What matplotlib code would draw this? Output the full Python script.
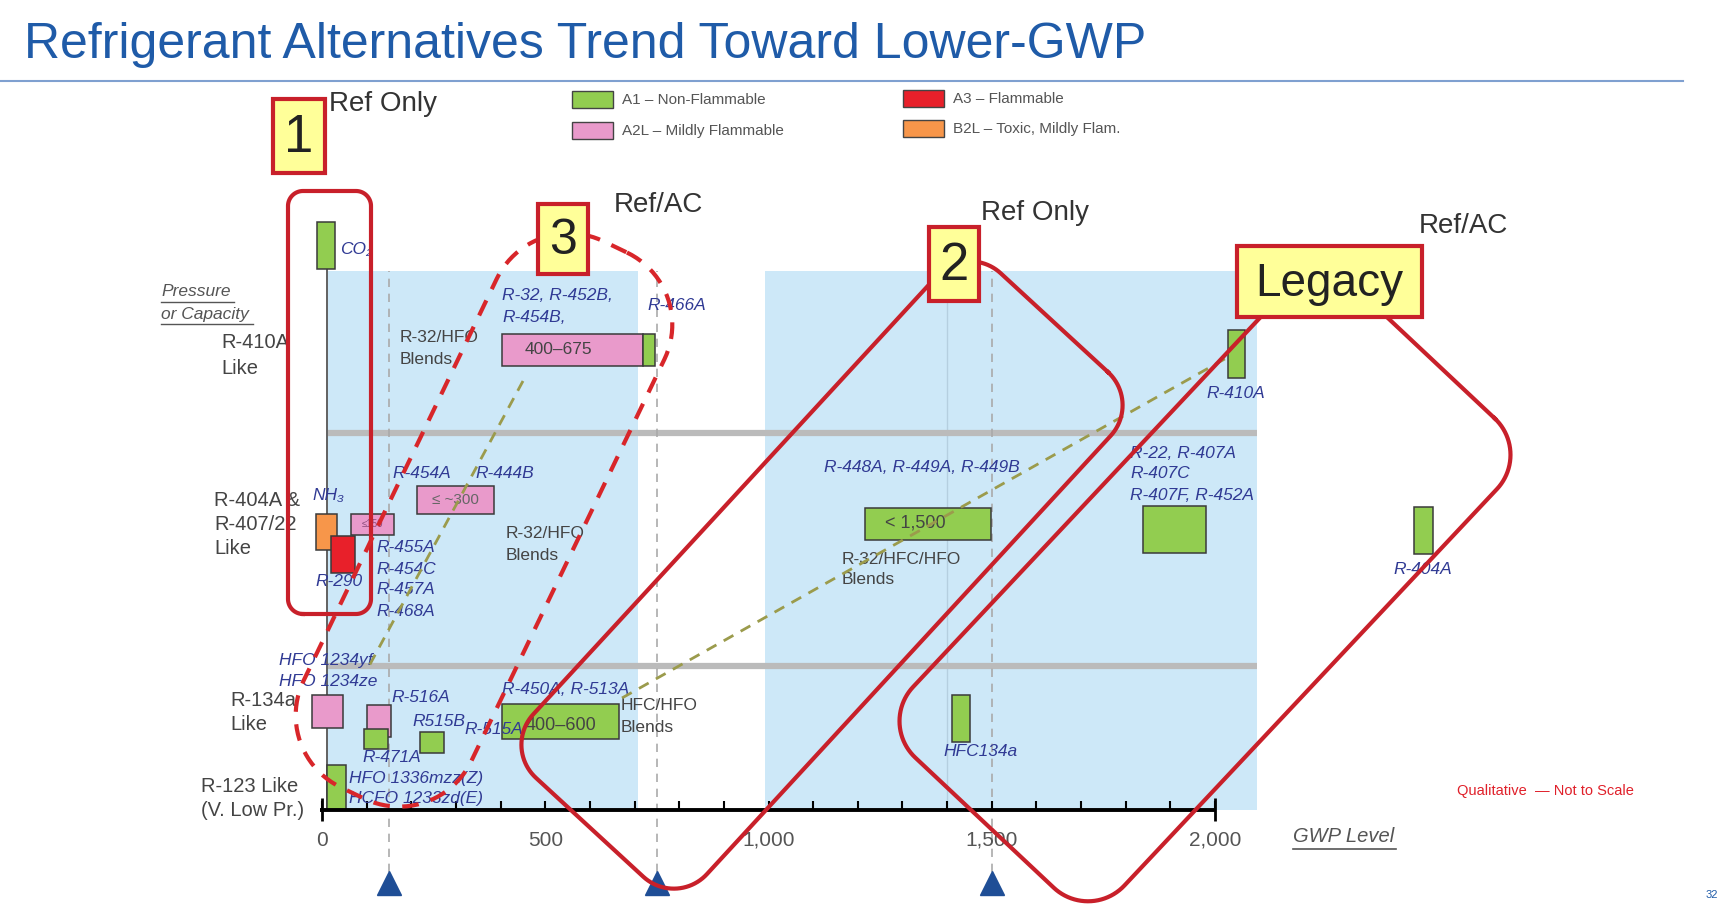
import numpy as np
import matplotlib
matplotlib.use("Agg")
import matplotlib.pyplot as plt
from matplotlib.patches import Rectangle

plt.rcParams['font.family'] = ['Liberation Sans', 'DejaVu Sans']

# ---------------- data ----------------
classes = ["A1", "A2L", "A3", "B2L"]
class_labels = ["A1 – Non-Flammable", "A2L – Mildly Flammable", "A3 – Flammable", "B2L – Toxic, Mildly Flam."]
class_colors = {"A1": "#92CD50", "A2L": "#E99ACB", "A3": "#E8202A", "B2L": "#F7964A"}

# refrigerant bars: GWP range (x) and pressure/capacity level (y, qualitative units)
bar_names = ["CO2", "R-32 group", "R-466A", "NH3", "R-290", "R-454A", "R-444B",
             "R-134a like HFO", "R-516A", "R-471A", "R515B", "R-450A/R-513A",
             "R-123 like HFO", "R-448A group", "R-22 group", "R-410A", "R-404A", "HFC134a"]
bar_class = ["A1", "A2L", "A1", "B2L", "A3", "A2L", "A2L",
             "A2L", "A2L", "A1", "A1", "A1",
             "A1", "A1", "A1", "A1", "A1", "A1"]
gwp_lo = [-12, 403, 719, -13, 21, 66, 212, -23, 100, 93, 219, 403, 12, 1217, 1838, 2029, 2445, 1410]
gwp_hi = [30, 719, 746, 34, 73, 162, 385, 46, 155, 148, 274, 665, 54, 1499, 1979, 2068, 2489, 1452]
lvl_lo = [541, 444, 444, 260, 237, 275, 296, 82, 73, 61, 57, 71, 0, 270, 257, 432, 256, 68]
lvl_hi = [588, 476, 476, 296, 274, 296, 324, 115, 105, 81, 78, 106, 45, 302, 304, 480, 303, 115]

tick_values = list(range(0, 2001, 100))
tick_label_values = [0, 500, 1000, 1500, 2000]
tick_labels = ["0", "500", "1,000", "1,500", "2,000"]
gwp_markers = [150, 750, 1500]
blue_regions = [(13, 708), (992, 2094)]
band_levels = [377, 144]

# ---------------- figure ----------------
W, H = 1733, 914
fig = plt.figure(figsize=(W / 100, H / 100), dpi=100)
ax = fig.add_axes([0, 0, 1, 1])
ax.set_xlim(-721.2, 3160.1)
ax.set_ylim(-104, 810)
ax.axis('off')

ov = fig.add_axes([0, 0, 1, 1], facecolor='none')
ov.set_xlim(0, W)
ov.set_ylim(H, 0)
ov.axis('off')

# blue regions
for x0, x1 in blue_regions:
    ax.add_patch(Rectangle((x0, 0), x1 - x0, 539, facecolor="#CDE8F8", edgecolor="none", zorder=0))
ax.vlines(1400, 0, 539, color="#B5CFE0", lw=1, zorder=0.5)
# band lines
ax.hlines(band_levels, blue_regions[0][0], blue_regions[1][1], color="#BBBBBB", lw=4.5, zorder=1)
# vertical dashed markers
ax.vlines(gwp_markers, -62, 539, color="#AAAAAA", lw=1.2, linestyles=(0, (5, 4)), zorder=1)
ax.plot(gwp_markers, [-73] * 3, marker='^', ms=17, color="#1F4E96", ls='none', zorder=3)
# left axis-like line
ax.vlines(12, 0, 541, color="#555555", lw=1.3, zorder=1.5)

# bars
for n, c, x0, x1, y0, y1 in zip(bar_names, bar_class, gwp_lo, gwp_hi, lvl_lo, lvl_hi):
    ax.add_patch(Rectangle((x0, y0), x1 - x0, y1 - y0, facecolor=class_colors[c],
                           edgecolor="#3A3A3A", lw=1.1, zorder=2))

# axis
ax.hlines(0, -5, 2000, color="black", lw=2.8, zorder=3)
ax.vlines(tick_values, 0, 9, color="black", lw=1.5, zorder=3)
ax.vlines([0, 2000], -11, 12, color="black", lw=2, zorder=3)
for v, t in zip(tick_label_values, tick_labels):
    ax.text(v, -30, t, ha='center', va='center', fontsize=15, color="#555555")

# olive dashed trend lines
ov.plot([523, 368], [381, 668], color="#9B9B4C", lw=2, ls=(0, (4, 3)), zorder=4)
ov.plot([622, 1230], [698, 356], color="#9B9B4C", lw=2, ls=(0, (4, 3)), zorder=4)

# title
ov.text(24, 45, "Refrigerant Alternatives Trend Toward Lower-GWP", fontsize=36,
        color="#1F5BA8", ha='left', va='center')
ov.plot([0, 1683], [81, 81], color="#7FA0D0", lw=1.5)

# legend
leg_pos = [(572, 91), (572, 122), (903, 90), (903, 120)]
for (lx, ly), c, lab in zip(leg_pos, classes, class_labels):
    ov.add_patch(Rectangle((lx, ly), 41, 17, facecolor=class_colors[c], edgecolor="#444444", lw=1))
    ov.text(lx + 50, ly + 9, lab, fontsize=11, color="#555555", ha='left', va='center')

# region labels
for x, y, t in [(329, 104, "Ref Only"), (614, 205, "Ref/AC"), (981, 213, "Ref Only"), (1419, 226, "Ref/AC")]:
    ov.text(x, y, t, fontsize=20, color="#333333", ha='left', va='center')

GRAY = "#444444"
BLUE = "#303A94"
# left category labels
ov.text(161, 292, "Pressure", fontsize=12.5, color="#555555", style='italic', ha='left', va='center')
ov.text(161, 314, "or Capacity", fontsize=12.5, color="#555555", style='italic', ha='left', va='center')
ov.plot([161, 234], [302, 302], color="#555555", lw=1)
ov.plot([161, 253], [324, 324], color="#555555", lw=1)
for x, y, t in [(221, 343, "R-410A"), (221, 368, "Like"),
                (214, 501, "R-404A &"), (214, 525, "R-407/22"), (214, 549, "Like"),
                (230, 700, "R-134a"), (230, 724, "Like"),
                (201, 786, "R-123 Like"), (201, 810, "(V. Low Pr.)")]:
    ov.text(x, y, t, fontsize=14.5, color=GRAY, ha='left', va='center')

# gray group texts
for x, y, t in [(400, 338, "R-32/HFO"), (400, 360, "Blends"),
                (506, 533, "R-32/HFO"), (506, 555, "Blends"),
                (621, 705, "HFC/HFO"), (621, 727, "Blends"),
                (842, 559, "R-32/HFC/HFO"), (842, 580, "Blends")]:
    ov.text(x, y, t, fontsize=12.5, color=GRAY, ha='left', va='center')

# blue refrigerant labels
blue_labels = [(340, 250, "CO₂"), (502, 296, "R-32, R-452B,"), (502, 318, "R-454B,"),
               (647, 305, "R-466A"), (312, 495, "NH₃"), (315, 582, "R-290"),
               (392, 473, "R-454A"), (475, 473, "R-444B"),
               (376, 547, "R-455A"), (376, 569, "R-454C"), (376, 590, "R-457A"), (376, 611, "R-468A"),
               (279, 661, "HFO 1234yf"), (279, 682, "HFO 1234ze"),
               (391, 698, "R-516A"), (362, 758, "R-471A"), (412, 722, "R515B"), (464, 730, "R-515A"),
               (502, 690, "R-450A, R-513A"),
               (349, 778, "HFO 1336mzz(Z)"), (349, 799, "HCFO 1233zd(E)"),
               (824, 467, "R-448A, R-449A, R-449B"),
               (1130, 453, "R-22, R-407A"), (1130, 474, "R-407C"), (1130, 495, "R-407F, R-452A"),
               (1206, 393, "R-410A"), (1393, 569, "R-404A"), (943, 752, "HFC134a")]
for x, y, t in blue_labels:
    ov.text(x, y, t, fontsize=12.5, color=BLUE, style='italic', ha='left', va='center', zorder=3)

# values inside bars
for x, y, t, fs, col in [(558, 350, "400–675", 12.5, "#444444"), (455, 500, "≤ ~300", 11, "#666666"),
                         (373, 524, "≤150", 7, "#8A4A7A"), (561, 726, "400–600", 13, "#444444"),
                         (915, 523, "< 1,500", 13, "#444444")]:
    ov.text(x, y, t, fontsize=fs, color=col, ha='center', va='center', zorder=3)

ov.text(1545, 791, "Qualitative  — Not to Scale", fontsize=10.5, color="#E0202A", ha='center', va='center')
ov.text(1293, 837, "GWP Level", fontsize=14.5, color="#555555", style='italic', ha='left', va='center')
ov.plot([1293, 1396], [849, 849], color="#555555", lw=1.2)
ov.text(1712, 895, "32", fontsize=8, color="#1F5BA8", ha='center', va='center')


# rounded rotated rectangles (annotation shapes)
def rrect(cx, cy, ux, uy, a, b, r, n=24):
    un = np.hypot(ux, uy)
    ux, uy = ux / un, uy / un
    vx, vy = -uy, ux
    pts = []
    for (x0, y0, st) in [(a - r, b - r, 0), (-a + r, b - r, 90), (-a + r, -b + r, 180), (a - r, -b + r, 270)]:
        t = np.radians(np.linspace(st, st + 90, n))
        lx = x0 + r * np.cos(t)
        ly = y0 + r * np.sin(t)
        for p, q in zip(lx, ly):
            pts.append((cx + p * ux + q * vx, cy + p * uy + q * vy))
    pts.append(pts[0])
    return np.array(pts)


RED = "#C8202A"
p = rrect(329.5, 402.5, 0, 1, 211.5, 41.5, 15)
ov.plot(p[:, 0], p[:, 1], color=RED, lw=3, zorder=5)
p = rrect(822, 575, 0.677, -0.735, 343, 118, 45)
ov.plot(p[:, 0], p[:, 1], color=RED, lw=3, zorder=5)
p = rrect(1205, 588, 0.685, -0.729, 322, 145, 50)
ov.plot(p[:, 0], p[:, 1], color=RED, lw=3, zorder=5)
p = rrect(484, 520, 0.433, -0.901, 303, 93, 80)
ov.plot(p[:, 0], p[:, 1], color="#D8262A", lw=3, ls=(0, (4, 3)), zorder=5)

# yellow number boxes
for x0, y0, x1, y1, t, fs in [(273, 99, 325, 173, "1", 38), (538, 204, 588, 274, "3", 36),
                              (929, 227, 979, 301, "2", 38), (1237, 246, 1422, 317, "Legacy", 33)]:
    ov.add_patch(Rectangle((x0, y0), x1 - x0, y1 - y0, facecolor="#FFFF99", edgecolor=RED, lw=3, zorder=6))
    ov.text((x0 + x1) / 2, (y0 + y1) / 2 + 2, t, fontsize=fs, color="#222222", ha='center', va='center', zorder=7)

fig.savefig("out.png", dpi=100)
